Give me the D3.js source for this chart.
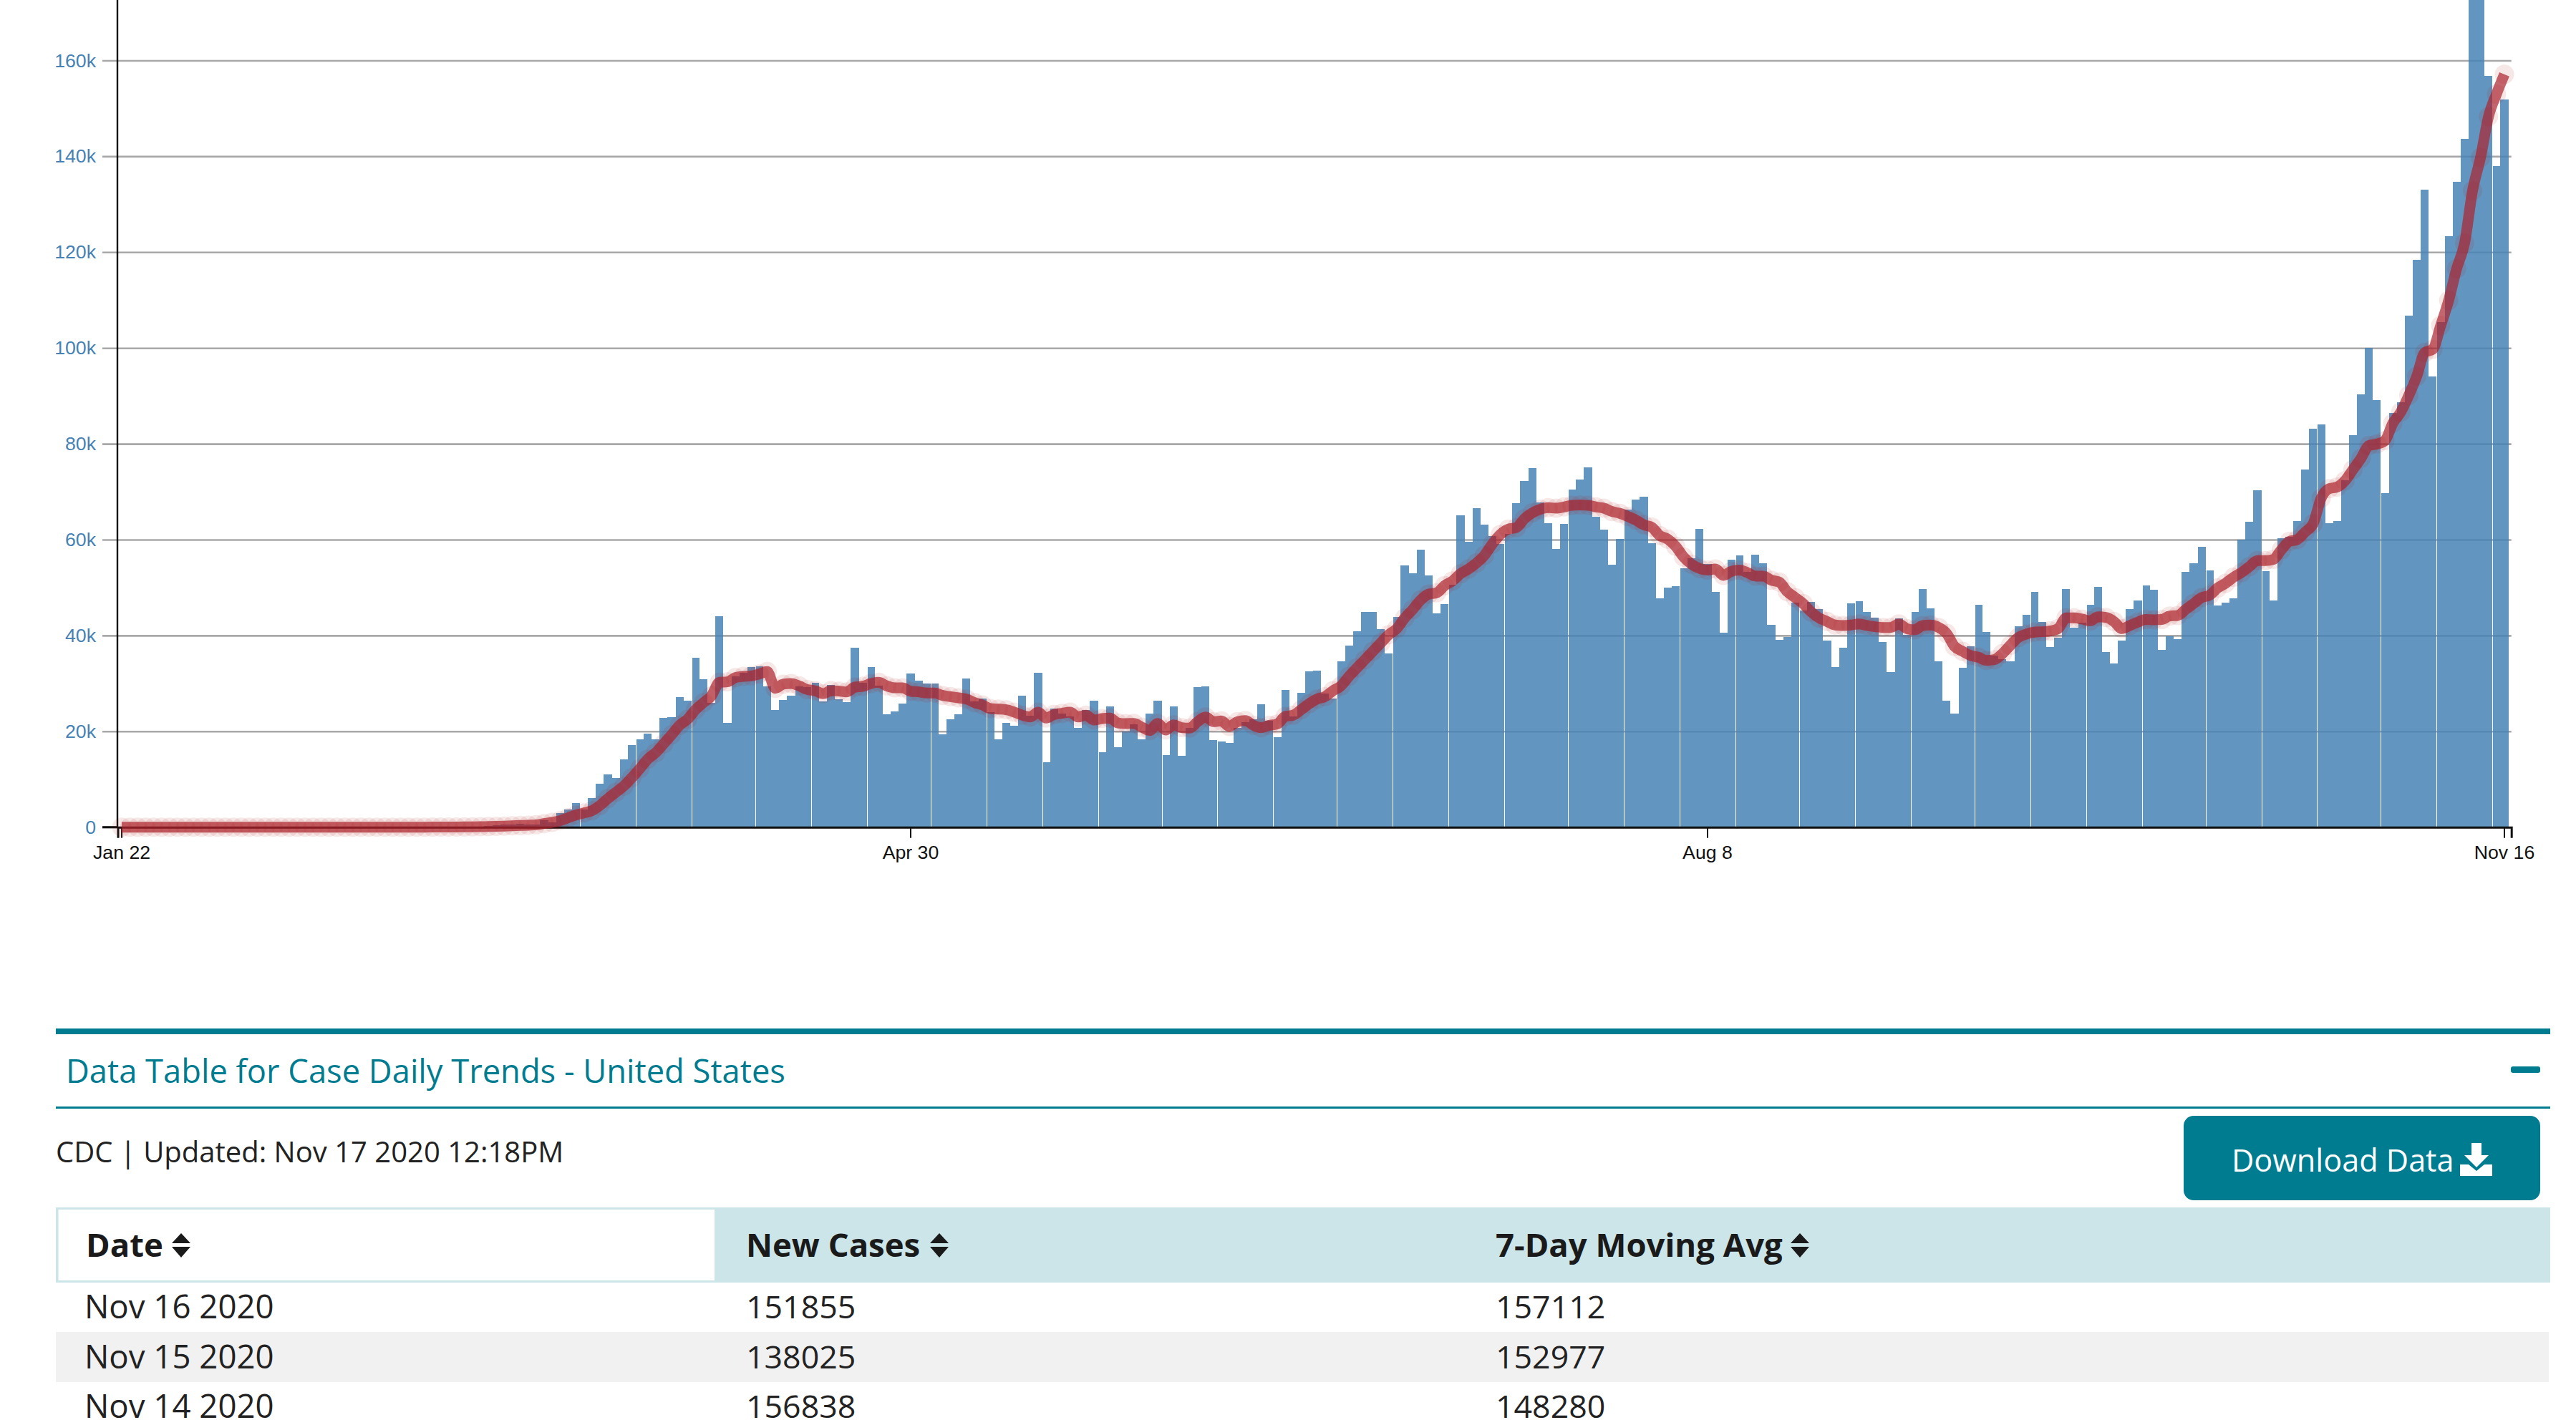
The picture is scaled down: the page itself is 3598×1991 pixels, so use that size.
<!DOCTYPE html>
<html>
<head>
<meta charset="utf-8">
<script src="https://cdn.jsdelivr.net/npm/d3@7"></script>
<style>
  body { margin: 0; background: #fff; }
  svg { display: block; }
</style>
</head>
<body>
<div class="container"></div>
<script>
// daily new cases, Jan 22 to Nov 16
const newCases = [
  1, 0, 1, 0, 1, 0, 0, 0, 3, 0,
  0, 1, 0, 0, 1, 0, 0, 0, 0, 1,
  0, 0, 0, 0, 0, 0, 1, 0, 0, 0,
  0, 1, 0, 0, 0, 3, 0, 12, 20, 22,
  30, 45, 60, 75, 120, 150, 300, 400, 500, 550,
  650, 600, 600, 1490, 1000, 2940, 3680, 5030, 3680, 6075,
  9060, 11000, 10260, 14140, 17130, 18330, 19520, 18330, 22800, 22960,
  27140, 26400, 35360, 30880, 25950, 44020, 21760, 31470, 32220, 33420,
  33560, 29380, 24450, 26540, 27440, 29380, 29230, 30130, 26240, 29680,
  26690, 26100, 37450, 30130, 33420, 29530, 23550, 24150, 25800, 32070,
  30580, 29980, 29980, 19370, 22510, 23555, 31030, 26240, 26840, 24000,
  18330, 21760, 21170, 27440, 23260, 32220, 13550, 24750, 23700, 23110,
  20720, 24450, 26390, 15640, 25200, 16680, 19970, 21460, 18330, 23700,
  26390, 15040, 25200, 14890, 20720, 29230, 29380, 18180, 17880, 17580,
  20720, 21910, 22510, 25650, 22260, 18770, 28640, 23110, 28040, 32520,
  32670, 27890, 26840, 34610, 37900, 40890, 44920, 44920, 41330, 36250,
  43870, 54630, 52990, 57920, 52540, 44620, 46560, 50600, 65090, 59560,
  66580, 63150, 60760, 59110, 61200, 67630, 72260, 74950, 67780, 63450,
  58070, 63300, 70470, 72560, 75100, 64790, 62100, 54780, 60160, 66280,
  68300, 68940, 59260, 47760, 50000, 50300, 54030, 56130, 62250, 54930,
  49100, 40590, 55830, 56720, 53290, 56870, 55080, 42230, 39090, 39690,
  46860, 45220, 47010, 45520, 38940, 33420, 37450, 46710, 47160, 44920,
  43720, 38650, 32370, 43570, 40140, 44920, 49700, 45670, 34610, 26390,
  23700, 33270, 37750, 46410, 40740, 35810, 35060, 34610, 41930, 44320,
  49100, 42830, 37600, 39540, 49700, 41630, 42680, 46410, 50150, 36550,
  34160, 38940, 45520, 47310, 50450, 49550, 37000, 39840, 39240, 53290,
  55080, 58510, 53590, 46260, 46860, 47760, 60010, 63740, 70320, 53440,
  47310, 60310, 60610, 63890, 74650, 83170, 84060, 63440, 63900, 72430,
  81840, 90380, 100050, 89180, 69770, 86510, 88710, 106790, 118330, 133070,
  94110, 105450, 123260, 134730, 143670, 175000, 184000, 156838, 138025, 151855
];

// 7-day moving average
const movingAvg = [
  0, 0, 0, 0, 0, 0, 0, 0, 0, 0,
  0, 0, 0, 0, 0, 0, 0, 0, 0, 0,
  0, 0, 0, 0, 0, 0, 0, 0, 0, 0,
  0, 0, 0, 0, 0, 0, 0, 0, 10, 15,
  20, 30, 40, 55, 75, 100, 130, 170, 220, 280,
  350, 420, 500, 750, 1000, 1340, 1940, 2540, 2990, 3440,
  4530, 5980, 7270, 8570, 10310, 12200, 14190, 15540, 17380, 19270,
  21260, 22510, 24500, 26000, 27390, 30230, 30330, 31220, 31470, 31570,
  31970, 32470, 28980, 29830, 29980, 29480, 28730, 28490, 27840, 28490,
  28390, 28240, 29230, 29380, 29980, 30230, 29480, 29080, 29080, 28340,
  28240, 27990, 27990, 27490, 27240, 26990, 26740, 26000, 25500, 24750,
  24650, 24500, 24000, 23360, 23010, 24000, 22760, 23510, 23760, 24000,
  23010, 23360, 22360, 22660, 22760, 21760, 21610, 21660, 20870, 20170,
  21660, 20270, 21360, 20770, 20670, 22010, 23010, 22010, 22160, 21020,
  22010, 22260, 21270, 20770, 21260, 21510, 23110, 23360, 24500, 25750,
  26740, 27240, 28490, 29480, 31470, 33220, 34960, 36700, 38450, 40190,
  41430, 43670, 45420, 47410, 48650, 48900, 50400, 51390, 52890, 53880,
  55130, 56720, 59110, 61100, 62200, 62500, 64340, 65590, 66330, 66680,
  66580, 66830, 67180, 67230, 67180, 66830, 66580, 65880, 65490, 64840,
  64090, 63100, 62600, 60860, 60110, 58610, 56370, 54880, 53990, 53640,
  53890, 52540, 53390, 53640, 53140, 52390, 52390, 51540, 51140, 49150,
  47910, 46660, 44920, 43670, 42930, 42180, 42080, 42180, 42430, 42080,
  41830, 41680, 41680, 42430, 41430, 41180, 42080, 42180, 41680, 40440,
  37700, 36700, 35830, 35460, 34810, 34960, 36200, 37950, 39590, 40290,
  40690, 40790, 40940, 41430, 43670, 43670, 43430, 43030, 43920, 43770,
  42930, 41430, 42080, 42780, 43330, 43280, 43330, 44070, 44170, 45420,
  46660, 47910, 48410, 49900, 50900, 52140, 53140, 54380, 55630, 55630,
  55880, 57870, 59610, 60010, 61600, 63340, 68640, 70640, 70970, 72300,
  74640, 76970, 79640, 79970, 80640, 84310, 86640, 90110, 94110, 99050,
  99700, 104680, 109910, 116530, 121860, 132820, 139740, 148280, 152977, 157112
];

// days whose bar starts with a hairline gap in the picture
const seamDays = [58, 65, 72, 80, 87, 94, 102, 109, 116, 123, 131, 138, 145, 153, 160, 167, 174,
  182, 189, 196, 203, 211, 218, 225, 233, 240, 247, 254, 262, 269, 276, 284, 291, 298];

const yTicks = [0, 20000, 40000, 60000, 80000, 100000, 120000, 140000, 160000];
const xTicks = ["Jan 22", "Apr 30", "Aug 8", "Nov 16"];

const tableTitle = "Data Table for Case Daily Trends - United States";
const updatedText = "CDC | Updated: Nov 17 2020 12:18PM";
const buttonText = "Download Data";
const tableHeaders = ["Date", "New Cases", "7-Day Moving Avg"];
const tableDates = ["Nov 16 2020", "Nov 15 2020", "Nov 14 2020"];
const tableCases = ["151855", "138025", "156838"];
const tableAvgs = ["157112", "152977", "148280"];

const width = 3598;
const height = 1991;
const labelFont = "'Liberation Sans', Arial, sans-serif";
const pageFont = "'Open Sans', sans-serif";
const teal = "#007c91";

const fmt = d3.timeFormat("%b %-d");
const days = d3.timeDay.range(new Date(2020, 0, 22), new Date(2020, 10, 17)).map(fmt);

const data = days.map((d, i) => ({ day: d, i: i, cases: newCases[i], avg: movingAvg[i] }));

const svg = d3.select(".container")
    .append("svg")
    .attr("width", width)
    .attr("height", height)
    .attr("viewBox", [0, 0, width, height]);

const xScale = d3.scaleBand()
    .domain(days)
    .range([164.5, 3507.7])
    .paddingInner(0)
    .paddingOuter(0.185)
    .align(0);

const yScale = d3.scaleLinear()
    .domain([0, 160000])
    .range([1155.7, 84.5]);

// gridlines and y labels
const gridLeft = 143;
const yAxis = d3.axisLeft(yScale)
    .tickValues(yTicks)
    .tickFormat(d => d === 0 ? "0" : d / 1000 + "k")
    .tickSize(-(3507.7 - gridLeft))
    .tickPadding(9);

const yG = svg.append("g")
    .attr("transform", `translate(${gridLeft}, 0)`)
    .call(yAxis);
yG.select(".domain").remove();
yG.selectAll(".tick line")
    .attr("stroke", "#a8a8a8")
    .attr("stroke-width", 2.6);
yG.selectAll(".tick text")
    .attr("fill", "#4682b4")
    .attr("font-family", labelFont)
    .attr("font-size", 26.7);

// bars
const step = xScale.bandwidth();
svg.append("g")
    .selectAll("rect")
    .data(data)
    .join("rect")
    .attr("x", d => xScale(d.day) + (seamDays.includes(d.i) ? 1 : 0))
    .attr("y", d => yScale(d.cases))
    .attr("width", d => step - (seamDays.includes(d.i) ? 1 : 0))
    .attr("height", d => yScale(0) - yScale(d.cases))
    .attr("fill", "steelblue")
    .attr("fill-opacity", 0.85)
    .attr("shape-rendering", "crispEdges");

// y axis line
svg.append("line")
    .attr("x1", 164).attr("x2", 164)
    .attr("y1", 0).attr("y2", yScale(0))
    .attr("stroke", "#111")
    .attr("stroke-width", 2.4);

// x axis
const xAxis = d3.axisBottom(xScale)
    .tickValues(xTicks)
    .tickSize(15)
    .tickPadding(10);

const xG = svg.append("g")
    .attr("transform", `translate(0, ${yScale(0)})`)
    .call(xAxis);
xG.select(".domain")
    .attr("stroke", "#111")
    .attr("stroke-width", 3);
xG.selectAll(".tick line")
    .attr("stroke", "#111")
    .attr("stroke-width", 2);
xG.selectAll(".tick text")
    .attr("fill", "#111")
    .attr("font-family", labelFont)
    .attr("font-size", 26.7);

// baseline runs on to the y labels
svg.append("line")
    .attr("x1", gridLeft).attr("x2", 164)
    .attr("y1", yScale(0)).attr("y2", yScale(0))
    .attr("stroke", "#111")
    .attr("stroke-width", 3);

// moving average line and its dots
const line = d3.line()
    .x(d => xScale(d.day) + step / 2)
    .y(d => yScale(d.avg))
    .curve(d3.curveMonotoneX);

svg.append("path")
    .datum(data)
    .attr("d", line)
    .attr("fill", "none")
    .attr("stroke", "#ab2530")
    .attr("stroke-opacity", 0.7)
    .attr("stroke-width", 15);

svg.append("g")
    .selectAll("circle")
    .data(data)
    .join("circle")
    .attr("cx", d => xScale(d.day) + step / 2)
    .attr("cy", d => yScale(d.avg))
    .attr("r", 13.5)
    .attr("fill", "firebrick")
    .attr("fill-opacity", 0.1);

// table section
const page = svg.append("g").attr("font-family", pageFont);

page.append("rect").attr("x", 78).attr("y", 1437).attr("width", 3484).attr("height", 8).attr("fill", teal);
page.append("rect").attr("x", 78).attr("y", 1546).attr("width", 3484).attr("height", 3).attr("fill", teal);

page.append("text")
    .attr("x", 92).attr("y", 1513)
    .attr("fill", teal)
    .attr("font-size", 45.3)
    .text(tableTitle);

page.append("rect")
    .attr("x", 3507).attr("y", 1490)
    .attr("width", 41).attr("height", 9).attr("rx", 3)
    .attr("fill", teal);

page.append("text")
    .attr("x", 78).attr("y", 1624)
    .attr("fill", "#222")
    .attr("font-size", 40)
    .text(updatedText);

// download button
page.append("rect")
    .attr("x", 3050).attr("y", 1559)
    .attr("width", 498).attr("height", 118).attr("rx", 14)
    .attr("fill", teal);

page.append("text")
    .attr("x", 3117).attr("y", 1637)
    .attr("fill", "#fff")
    .attr("font-size", 43.2)
    .text(buttonText);

page.append("path")
    .attr("d", "M3452 1597h14v17h10l-17 17l-17-17h10z M3436 1627h12l11 9l11-9h11v16h-45z")
    .attr("fill", "#fff");

// header band
page.append("rect").attr("x", 78).attr("y", 1687).attr("width", 3484).attr("height", 105).attr("fill", "#cbe5e9");
page.append("rect").attr("x", 81.5).attr("y", 1690).attr("width", 916.5).attr("height", 99).attr("fill", "#fff");

const colX = [120, 1042, 2089];
const sortX = [253, 1312, 2514];

page.selectAll(".head")
    .data(tableHeaders)
    .join("text")
    .attr("class", "head")
    .attr("x", (d, i) => colX[i])
    .attr("y", 1756)
    .attr("fill", "#1a1a1a")
    .attr("font-size", 45.5)
    .attr("font-weight", 700)
    .text(d => d);

page.selectAll(".sort")
    .data(sortX)
    .join("path")
    .attr("class", "sort")
    .attr("d", d => `M${d} 1723l13 14h-26z M${d - 13} 1742h26l-13 15z`)
    .attr("fill", "#1a1a1a");

// rows
page.append("rect").attr("x", 78).attr("y", 1861).attr("width", 3482).attr("height", 70).attr("fill", "#f1f1f1");

const rowY = [1842, 1912, 1981];
const rowX = [118, 1042, 2089];
const rowFont = [45.6, 44.7, 44.7];
[tableDates, tableCases, tableAvgs].forEach((col, c) => {
    page.append("g")
        .selectAll("text")
        .data(col)
        .join("text")
        .attr("x", rowX[c])
        .attr("y", (d, i) => rowY[i])
        .attr("fill", "#222")
        .attr("font-size", rowFont[c])
        .text(d => d);
});
</script>
</body>
</html>
